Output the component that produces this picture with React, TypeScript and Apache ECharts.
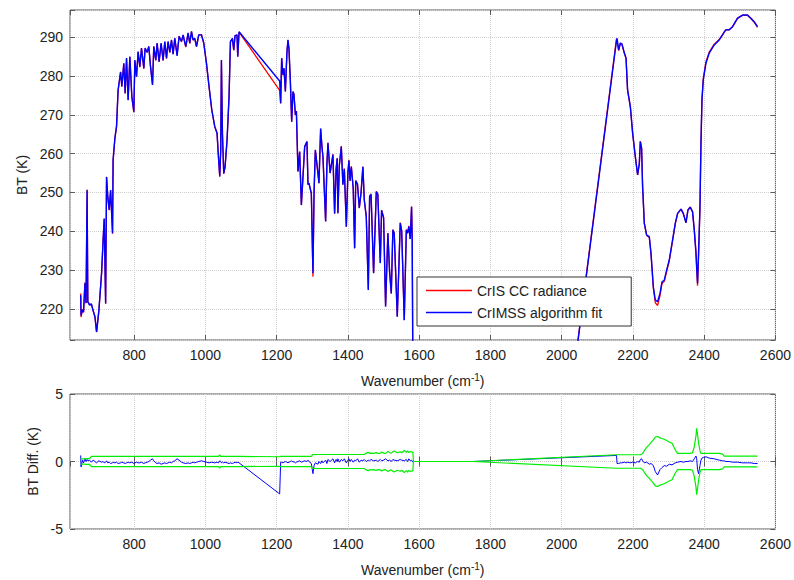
import React, { useEffect, useRef } from 'react';
import * as echarts from 'echarts';

// Wavenumber grid (cm-1)
const wavenumber = [
  650, 651, 655, 658, 662, 665, 668, 670, 675, 680,
  685, 690, 694.6, 701, 708.6, 713, 716, 720, 722.6, 726,
  730, 734, 739.4, 741, 746, 750.6, 755, 762, 765.5, 771,
  774.8, 778.7, 783.2, 788, 793.6, 799.2, 802, 806.7, 811.2, 816,
  820.7, 827.2, 830.8, 836.5, 841.2, 846, 851.6, 855.2, 860.8, 864.5,
  870.1, 875.7, 881.3, 886.1, 890.9, 895.3, 900.1, 904.9, 909.4, 914.1,
  920.6, 926.2, 932.9, 937.4, 945, 951.4, 956.2, 961, 965.4, 970.2,
  975, 981.4, 989, 995.4, 1003, 1010.3, 1017.9, 1026.3, 1032.7, 1036.7,
  1040.3, 1043.1, 1045, 1047.9, 1051.5, 1055.2, 1060.8, 1066.4, 1070.3, 1075.9,
  1079.6, 1083.2, 1088.8, 1090.8, 1094.5, 1208.5, 1211.3, 1214.1, 1217.8, 1220.6,
  1224.5, 1229, 1231.8, 1234.6, 1238.5, 1242.2, 1245.8, 1248.6, 1252.6, 1255.4,
  1259.9, 1264.6, 1269.4, 1273.9, 1278.7, 1285.1, 1288, 1290.7, 1297.4, 1301.9,
  1305, 1308.6, 1316, 1318.8, 1323.5, 1327, 1330, 1337.5, 1341, 1344,
  1350, 1358, 1362.7, 1367, 1370, 1372, 1376, 1381.5, 1386, 1390,
  1395.6, 1400, 1402.9, 1406, 1409.6, 1415, 1418.9, 1422, 1427, 1432,
  1437, 1442.1, 1446, 1451.6, 1457.3, 1461, 1465, 1472.1, 1479.7, 1484,
  1490.9, 1494.6, 1500.2, 1505.8, 1512.2, 1517, 1521.8, 1526.2, 1530, 1538.6,
  1547, 1551, 1558.2, 1564, 1567.5, 1571.1, 1575, 1578.7, 1580.5, 1582.3,
  1584, 1750, 2154, 2155.5, 2160, 2164.7, 2169, 2176, 2180.7, 2185,
  2192.8, 2199.2, 2206.8, 2213.2, 2218, 2220.8, 2224.4, 2227.2, 2232, 2238.5,
  2246, 2250.8, 2257.3, 2262.9, 2269.3, 2276, 2281.6, 2288, 2294.6, 2302,
  2309.7, 2319, 2325.4, 2335, 2341.4, 2349, 2354.5, 2361, 2367.4, 2372.2,
  2377, 2379, 2381.4, 2384.2, 2388.2, 2391, 2393.8, 2397.5, 2405, 2414.2,
  2428.3, 2442.3, 2451.6, 2456.3, 2461, 2470.4, 2479.6, 2493.6, 2507.7, 2521.7,
  2531.2, 2540.5, 2549.7,
];

// CrIMSS algorithm fit brightness temperature (K)
const btFit = [
  223.5, 218.3, 219.8, 219.2, 226.6, 221.5, 250.6, 221.8, 221.0, 221.3,
  219.5, 218.0, 214.1, 219.5, 229.2, 237.8, 243.3, 221.4, 254.0, 249.0,
  245.5, 250.6, 239.5, 258.4, 264.0, 267.0, 276.4, 281.1, 277.3, 283.3,
  275.6, 284.6, 273.8, 285.0, 274.7, 270.8, 284.1, 279.8, 286.3, 282.4,
  287.2, 282.0, 287.2, 286.1, 287.6, 282.4, 277.7, 287.6, 284.1, 288.5,
  283.7, 288.5, 284.1, 288.9, 284.6, 288.9, 286.1, 289.3, 285.6, 289.7,
  285.2, 290.2, 288.9, 290.6, 287.6, 291.1, 288.5, 291.5, 289.3, 289.7,
  287.6, 290.6, 290.6, 288.5, 283.3, 277.3, 271.3, 267.0, 265.3, 259.2,
  254.1, 261.0, 284.1, 265.0, 254.9, 256.6, 263.5, 274.7, 288.9, 289.7,
  286.7, 290.4, 290.6, 285.0, 291.4, 278.7, 273.0, 284.6, 280.3, 282.0,
  276.0, 286.3, 289.3, 287.0, 278.6, 268.2, 276.0, 275.3, 270.0, 271.0,
  255.4, 260.5, 246.8, 254.0, 261.8, 263.1, 252.0, 252.4, 249.8, 229.2,
  250.0, 261.0, 255.0, 252.4, 266.5, 262.0, 259.2, 242.5, 257.0, 262.7,
  255.0, 259.7, 244.6, 256.0, 258.8, 244.6, 257.0, 261.8, 252.0, 256.0,
  241.2, 255.0, 258.2, 253.0, 256.6, 251.0, 235.6, 253.0, 252.0, 246.0,
  250.0, 256.6, 248.0, 243.8, 224.9, 249.0, 249.5, 229.2, 250.2, 249.5,
  231.8, 245.4, 243.5, 220.6, 239.5, 229.6, 224.0, 240.3, 239.5, 218.0,
  242.1, 240.0, 217.1, 240.3, 239.5, 241.2, 238.0, 246.3, 238.0, 205.0,
  0, 0, 289.2, 289.7, 286.7, 288.5, 288.3, 285.9, 284.6, 276.4,
  272.1, 265.3, 259.2, 254.5, 257.5, 263.1, 261.3, 251.5, 242.1, 239.0,
  238.6, 234.3, 225.7, 222.3, 221.9, 224.0, 227.0, 227.4, 230.0, 232.6,
  236.9, 242.1, 244.6, 245.7, 244.6, 242.2, 245.5, 246.2, 245.0, 240.3,
  234.3, 230.5, 226.6, 234.3, 246.3, 262.7, 273.8, 279.0, 283.3, 285.9,
  288.0, 289.3, 290.6, 291.3, 291.9, 291.9, 292.7, 294.9, 295.7, 295.7,
  294.9, 294.0, 292.7,
];

// BT difference, CrIS CC minus CrIMSS fit (K)
const btDiff = [
  0.45, -0.4, 0.1, -0.1, 0.2, 0.0, 0.15, 0.05, 0.1, -0.05,
  0.1, 0.0, -0.1, 0.05, -0.05, 0.0, -0.1, -0.05, 0.05, -0.1,
  -0.05, -0.15, -0.1, -0.05, -0.1, -0.05, -0.15, -0.1, -0.05, -0.1,
  -0.15, -0.1, -0.05, -0.1, -0.05, -0.15, -0.1, -0.05, -0.1, -0.1,
  -0.05, -0.15, -0.1, -0.05, 0.0, 0.1, 0.2, 0.05, -0.1, -0.15,
  -0.1, -0.2, -0.15, -0.1, -0.15, -0.1, -0.05, -0.1, 0.0, 0.05,
  0.2, 0.1, -0.05, -0.1, -0.15, -0.1, -0.15, -0.1, -0.05, -0.1,
  -0.05, 0.0, 0.05, 0.0, -0.05, -0.1, -0.05, -0.1, -0.05, -0.1,
  0.05, 0.0, -0.1, -0.05, -0.1, -0.05, -0.1, -0.15, -0.1, -0.15,
  -0.1, -0.05, -0.1, -0.05, -0.1, -2.4, -0.05, -0.05, -0.1, -0.05,
  0.0, -0.05, -0.1, -0.05, 0.0, 0.05, -0.05, 0.0, -0.1, -0.05,
  0.0, 0.05, -0.05, 0.0, 0.05, 0.0, 0.1, 0.0, -0.15, -0.9,
  -0.3, -0.1, -0.2, 0.0, -0.15, 0.05, -0.1, 0.1, -0.15, 0.15,
  0.0, 0.2, -0.1, 0.15, 0.0, 0.2, -0.05, 0.15, 0.05, 0.2,
  -0.1, 0.1, 0.2, 0.0, 0.15, -0.05, 0.1, 0.05, 0.2, -0.05,
  0.1, 0.05, 0.15, 0.0, 0.1, 0.05, 0.15, 0.05, 0.1, 0.0,
  0.15, 0.05, 0.1, 0.2, 0.05, 0.1, 0.0, 0.15, 0.1, 0.05,
  0.15, 0.1, 0.05, 0.15, 0.0, 0.2, 0.05, 0.1, 0.0, 0.0,
  0, 0, 0.45, -0.15, -0.15, -0.1, -0.1, -0.05, -0.1, -0.05,
  -0.1, -0.05, -0.1, 0.0, -0.05, 0.15, 0.2, 0.05, -0.1, -0.05,
  -0.2, -0.15, -0.3, -0.75, -1.0, -0.6, -0.45, -0.3, -0.35, -0.2,
  -0.25, -0.1, -0.05, 0.0, -0.05, 0.0, 0.0, 0.05, 0.0, 0.2,
  0.4, 0.2, -0.6, -0.9, -0.3, 0.1, 0.25, 0.3, 0.35, 0.25,
  0.2, 0.1, 0.05, 0.05, 0.0, 0.0, -0.05, -0.05, -0.1, -0.1,
  -0.1, -0.15, -0.15,
];

// Noise envelope half-width (K), drawn as +/- green curves
const btNoise = [
  0.2, 0.2, 0.2, 0.2, 0.2, 0.22, 0.22, 0.22, 0.22, 0.38,
  0.38, 0.38, 0.38, 0.38, 0.38, 0.38, 0.38, 0.38, 0.38, 0.38,
  0.38, 0.38, 0.38, 0.38, 0.38, 0.38, 0.38, 0.38, 0.38, 0.38,
  0.38, 0.38, 0.38, 0.38, 0.38, 0.38, 0.38, 0.38, 0.38, 0.38,
  0.38, 0.38, 0.38, 0.38, 0.38, 0.38, 0.38, 0.38, 0.38, 0.38,
  0.38, 0.38, 0.38, 0.38, 0.38, 0.38, 0.38, 0.38, 0.38, 0.38,
  0.38, 0.38, 0.38, 0.38, 0.38, 0.38, 0.38, 0.38, 0.38, 0.38,
  0.38, 0.38, 0.38, 0.38, 0.38, 0.38, 0.38, 0.38, 0.38, 0.38,
  0.5, 0.38, 0.38, 0.38, 0.38, 0.38, 0.38, 0.38, 0.38, 0.38,
  0.38, 0.38, 0.38, 0.38, 0.38, 0.35, 0.38, 0.38, 0.38, 0.38,
  0.38, 0.38, 0.38, 0.38, 0.38, 0.38, 0.38, 0.38, 0.38, 0.38,
  0.38, 0.38, 0.38, 0.38, 0.38, 0.38, 0.38, 0.38, 0.38, 0.52,
  0.52, 0.52, 0.52, 0.52, 0.52, 0.52, 0.52, 0.52, 0.52, 0.52,
  0.52, 0.52, 0.52, 0.52, 0.52, 0.52, 0.52, 0.52, 0.52, 0.52,
  0.52, 0.52, 0.52, 0.52, 0.52, 0.52, 0.52, 0.52, 0.52, 0.52,
  0.52, 0.52, 0.52, 0.62, 0.68, 0.6, 0.62, 0.6, 0.66, 0.6,
  0.62, 0.7, 0.62, 0.6, 0.75, 0.65, 0.62, 0.72, 0.78, 0.65,
  0.72, 0.65, 0.82, 0.68, 0.78, 0.66, 0.75, 0.7, 0.7, 0.7,
  0, 0, 0.5, 0.5, 0.5, 0.5, 0.5, 0.5, 0.5, 0.5,
  0.5, 0.5, 0.5, 0.5, 0.5, 0.5, 0.55, 0.6, 0.8, 1.05,
  1.25, 1.4, 1.6, 1.8, 1.85, 1.75, 1.7, 1.65, 1.55, 1.45,
  1.35, 0.85, 0.6, 0.6, 0.6, 0.6, 0.6, 0.6, 0.65, 1.1,
  1.9, 2.45, 2.0, 1.4, 0.8, 0.6, 0.6, 0.6, 0.6, 0.6,
  0.6, 0.6, 0.55, 0.4, 0.4, 0.4, 0.4, 0.4, 0.4, 0.4,
  0.4, 0.4, 0.4,
];

const xRange = [620, 2600];
const btRange = [212, 297];
const diffRange = [-5, 5];
const xStep = 200;
const btStep = 10;
const diffStep = 5;

const FONT = '"Liberation Sans", Arial, Helvetica, sans-serif';
const AXIS_COLOR = '#5a5a5a';
const TEXT_COLOR = '#222222';
const GRID_COLOR = '#cfcfcf';

export default function App() {
  const ref = useRef<HTMLDivElement>(null);

  useEffect(() => {
    if (!ref.current) return;
    const chart = echarts.init(ref.current, undefined, { renderer: 'svg' });

    const crisSeries = wavenumber.map((w, i) => [w, Math.round((btFit[i] + btDiff[i]) * 100) / 100]);
    const fitSeries = wavenumber.map((w, i) => [w, btFit[i]]);
    const diffSeries = wavenumber.map((w, i) => [w, btDiff[i]]);
    const noiseUp = wavenumber.map((w, i) => [w, btNoise[i]]);
    const noiseDown = wavenumber.map((w, i) => [w, -btNoise[i]]);

    const nameStyle = {
      fontSize: 14,
      color: TEXT_COLOR,
      fontFamily: FONT,
      lineHeight: 18,
      rich: {
        sup: { fontSize: 10, lineHeight: 10, verticalAlign: 'top', color: TEXT_COLOR, fontFamily: FONT },
      },
    };

    const tickStyle = { inside: true, length: 5, lineStyle: { color: AXIS_COLOR, width: 1 } };

    const mainX = (gridIndex: number) => ({
      type: 'value',
      gridIndex,
      min: xRange[0],
      max: xRange[1],
      splitNumber: 10,
      position: 'bottom',
      axisLine: { show: false },
      axisTick: tickStyle,
      axisLabel: {
        margin: 8,
        color: TEXT_COLOR,
        fontSize: 14,
        fontFamily: FONT,
        showMinLabel: false,
        formatter: (v: number) => (v % xStep === 0 ? String(v) : ''),
      },
      splitLine: { show: true, lineStyle: { color: GRID_COLOR, type: 'dotted', width: 1 } },
      name: 'Wavenumber (cm{sup|-1})',
      nameLocation: 'middle',
      nameGap: 32,
      nameTextStyle: nameStyle,
    });

    const topX = (gridIndex: number) => ({
      type: 'value',
      gridIndex,
      min: xRange[0],
      max: xRange[1],
      splitNumber: 10,
      position: 'top',
      axisLine: { show: false },
      axisTick: tickStyle,
      axisLabel: { show: false },
      splitLine: { show: false },
    });

    const mainY = (gridIndex: number, range: number[], step: number, splitNumber: number, name: string, nameGap: number) => ({
      type: 'value',
      gridIndex,
      min: range[0],
      max: range[1],
      splitNumber,
      position: 'left',
      axisLine: { show: false },
      axisTick: tickStyle,
      axisLabel: {
        margin: 7,
        color: TEXT_COLOR,
        fontSize: 14,
        fontFamily: FONT,
        formatter: (v: number) => (Math.abs(v % step) < 1e-9 ? String(v) : ''),
      },
      splitLine: { show: true, lineStyle: { color: GRID_COLOR, type: 'dotted', width: 1 } },
      name,
      nameLocation: 'middle',
      nameGap,
      nameTextStyle: { fontSize: 14, color: TEXT_COLOR, fontFamily: FONT },
    });

    const rightY = (gridIndex: number, range: number[], splitNumber: number) => ({
      type: 'value',
      gridIndex,
      min: range[0],
      max: range[1],
      splitNumber,
      position: 'right',
      axisLine: { show: false },
      axisTick: tickStyle,
      axisLabel: { show: false },
      splitLine: { show: false },
    });

    chart.setOption({
      animation: false,
      backgroundColor: '#ffffff',
      grid: [
        { left: 70, top: 10, width: 707, height: 330, show: true, borderColor: AXIS_COLOR, borderWidth: 1, backgroundColor: 'transparent' },
        { left: 70, top: 394, width: 707, height: 139, show: true, borderColor: AXIS_COLOR, borderWidth: 1, backgroundColor: 'transparent' },
      ],
      xAxis: [mainX(0), topX(0), mainX(1), topX(1)],
      yAxis: [
        mainY(0, btRange, btStep, 8, 'BT (K)', 37),
        rightY(0, btRange, 8),
        { ...mainY(1, diffRange, diffStep, 2, 'BT Diff. (K)', 26), interval: diffStep },
        { ...rightY(1, diffRange, 2), interval: diffStep },
      ],
      legend: {
        data: ['CrIS CC radiance', 'CrIMSS algorithm fit'],
        orient: 'vertical',
        left: 417,
        top: 277,
        icon: 'rect',
        backgroundColor: '#ffffff',
        borderColor: '#333333',
        borderWidth: 1,
        borderRadius: 0,
        padding: [5, 29, 5, 9],
        itemGap: 5,
        itemWidth: 46,
        itemHeight: 1.5,
        textStyle: { fontSize: 14, lineHeight: 17, color: TEXT_COLOR, fontFamily: FONT },
        z: 10,
      },
      series: [
        {
          name: 'CrIS CC radiance',
          type: 'line',
          xAxisIndex: 0,
          yAxisIndex: 0,
          data: crisSeries,
          symbol: 'none',
          color: '#ff0000',
          lineStyle: { color: '#ff0000', width: 1.3 },
          z: 2,
        },
        {
          name: 'CrIMSS algorithm fit',
          type: 'line',
          xAxisIndex: 0,
          yAxisIndex: 0,
          data: fitSeries,
          symbol: 'none',
          color: '#0000ff',
          lineStyle: { color: '#0000ff', width: 1.4 },
          z: 3,
        },
        {
          name: 'BT difference',
          type: 'line',
          xAxisIndex: 2,
          yAxisIndex: 2,
          data: diffSeries,
          symbol: 'none',
          color: '#0000ff',
          lineStyle: { color: '#0000ff', width: 1 },
          z: 2,
        },
        {
          name: 'Noise upper',
          type: 'line',
          xAxisIndex: 2,
          yAxisIndex: 2,
          data: noiseUp,
          symbol: 'none',
          color: '#00ee00',
          lineStyle: { color: '#00ee00', width: 1.2 },
          z: 3,
        },
        {
          name: 'Noise lower',
          type: 'line',
          xAxisIndex: 2,
          yAxisIndex: 2,
          data: noiseDown,
          symbol: 'none',
          color: '#00ee00',
          lineStyle: { color: '#00ee00', width: 1.2 },
          z: 3,
        },
      ],
    });

    return () => chart.dispose();
  }, []);

  return (
    <div
      ref={ref}
      style={{ position: 'fixed', left: 0, top: 0, width: 794, height: 580, background: '#ffffff' }}
    />
  );
}
